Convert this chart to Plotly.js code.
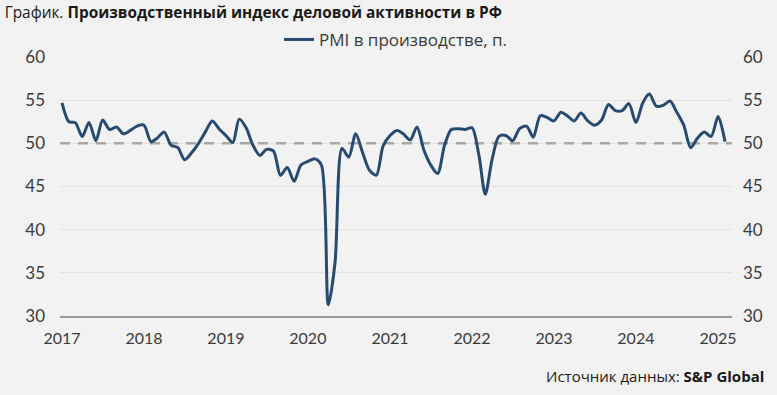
<!DOCTYPE html>
<html>
<head>
<meta charset="utf-8">
<script src="https://cdn.plot.ly/plotly-3.0.1.min.js"></script>
<style>html,body{margin:0;padding:0;background:#f2f2f2;}#chart{width:777px;height:395px;}</style>
</head>
<body>
<div id="chart"></div>
<script>
// Russia manufacturing PMI, monthly, Jan 2017 .. Feb 2025
const startYear = 2017;
const pmi = [
  54.7, 52.5, 52.4, 50.8, 52.4, 50.3, 52.7, 51.6, 51.9, 51.1, 51.5, 52.0, // 2017
  52.1, 50.2, 50.6, 51.3, 49.8, 49.5, 48.1, 48.9, 50.0, 51.3, 52.6, 51.7, // 2018
  50.9, 50.1, 52.8, 51.8, 49.8, 48.6, 49.3, 49.1, 46.3, 47.2, 45.6, 47.5, // 2019
  47.9, 48.2, 47.5, 31.3, 36.2, 49.4, 48.4, 51.1, 48.9, 46.9, 46.3, 49.7, // 2020
  50.9, 51.5, 51.1, 50.4, 51.9, 49.2, 47.5, 46.5, 49.8, 51.6, 51.7, 51.6, // 2021
  51.8, 48.6, 44.1, 48.2, 50.8, 50.9, 50.3, 51.7, 52.0, 50.7, 53.2, 53.0, // 2022
  52.6, 53.6, 53.2, 52.6, 53.5, 52.6, 52.1, 52.7, 54.5, 53.8, 53.8, 54.6, // 2023
  52.4, 54.7, 55.7, 54.3, 54.4, 54.9, 53.6, 52.1, 49.5, 50.6, 51.3, 50.8, // 2024
  53.1, 50.2                                                              // 2025
];
const threshold = 50;
const yTicks = [30, 35, 40, 45, 50, 55, 60];
const xTickYears = ['2017','2018','2019','2020','2021','2022','2023','2024','2025'];
const xRange = ['2016-12-23', '2025-03-04'];
const seriesName = 'PMI в производстве, п.';
const titleText = 'График. <b>Производственный индекс деловой активности в РФ</b>';
const sourceText = 'Источник данных: <b>S&P Global</b>';

const dates = pmi.map((_, i) => {
  const y = startYear + Math.floor(i / 12);
  const m = (i % 12) + 1;
  return y + '-' + String(m).padStart(2, '0') + '-01';
});

const FONT = 'Lato, "Open Sans", sans-serif';
const WIDE = '"Open Sans", "Noto Sans", sans-serif';
const TXT = '#3a3a3a';

const traces = [
  {
    x: xRange, y: [threshold, threshold], type: 'scatter', mode: 'lines',
    showlegend: false, hoverinfo: 'skip', cliponaxis: false,
    line: {color: '#a8a8a8', width: 2.5, dash: '10px,8px'}
  },
  {
    x: dates, y: pmi, type: 'scatter', mode: 'lines', name: seriesName,
    line: {color: '#274b70', width: 3, shape: 'spline', smoothing: 0.8},
    hoverinfo: 'skip'
  },
  {
    x: [dates[0], dates[dates.length-1]], y: [null, null], yaxis: 'y2',
    type: 'scatter', mode: 'lines', showlegend: false, hoverinfo: 'skip'
  }
];

const layout = {
  width: 777, height: 395,
  paper_bgcolor: '#f2f2f2', plot_bgcolor: '#f2f2f2',
  margin: {l: 60, r: 45, t: 57, b: 79},
  font: {family: FONT, color: TXT},
  title: {
    text: titleText, xref: 'container', yref: 'container',
    x: 0.006, xanchor: 'left', y: 0.968, yanchor: 'middle',
    font: {family: WIDE, size: 15.4, color: '#1a1a1a'}
  },
  showlegend: true,
  legend: {
    orientation: 'h', x: 0.5, xanchor: 'center', y: 1.066, yanchor: 'middle',
    font: {family: WIDE, size: 17, color: TXT}, bgcolor: 'rgba(0,0,0,0)'
  },
  xaxis: {
    type: 'date',
    range: xRange,
    tickvals: xTickYears.map(y => y + '-01-01'),
    ticktext: xTickYears,
    showgrid: false, zeroline: false,
    showline: true, linecolor: '#9a9a9a', linewidth: 1.5,
    ticks: '', ticklabelstandoff: 7,
    tickfont: {family: FONT, size: 16, color: TXT}
  },
  yaxis: {
    range: [30, 60], tickvals: yTicks, showgrid: true, gridcolor: '#e2e2e2', gridwidth: 1,
    zeroline: false, ticks: '', ticklabelstandoff: 14,
    tickfont: {family: FONT, size: 17, color: TXT}
  },
  yaxis2: {
    range: [30, 60], tickvals: yTicks, overlaying: 'y', side: 'right',
    showgrid: false, zeroline: false, ticks: '', ticklabelstandoff: 10,
    tickfont: {family: FONT, size: 17, color: TXT}
  },
  annotations: [{
    text: sourceText, xref: 'paper', yref: 'paper', x: 1.0506, y: -0.2317,
    xanchor: 'right', yanchor: 'middle', showarrow: false,
    font: {family: WIDE, size: 15, color: '#1a1a1a'}
  }]
};

Plotly.newPlot('chart', traces, layout, {staticPlot: true, displayModeBar: false});
</script>
</body>
</html>
